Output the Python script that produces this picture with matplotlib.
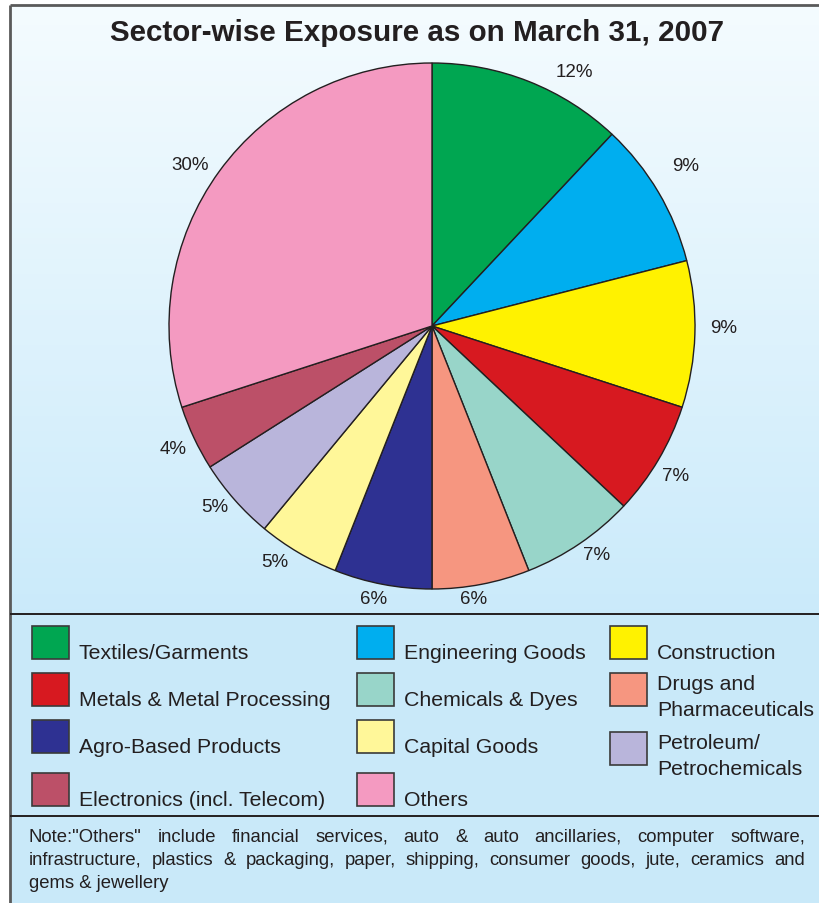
import numpy as np
import matplotlib.pyplot as plt
from matplotlib.patches import Rectangle

plt.rcParams['font.family'] = ['Liberation Sans', 'DejaVu Sans']

title = 'Sector-wise Exposure as on March 31, 2007'
sectors = ['Textiles/Garments', 'Engineering Goods', 'Construction',
           'Metals & Metal Processing', 'Chemicals & Dyes', 'Drugs and\nPharmaceuticals',
           'Agro-Based Products', 'Capital Goods', 'Petroleum/\nPetrochemicals',
           'Electronics (incl. Telecom)', 'Others']
shares = [12, 9, 9, 7, 7, 6, 6, 5, 5, 4, 30]
colors = ['#00a651', '#00aeef', '#fff200', '#d71920', '#98d5c9', '#f69680',
          '#2e3192', '#fff799', '#b9b5db', '#bc5068', '#f49ac1']
note_lines = [
    'Note:"Others" include financial services, auto & auto ancillaries, computer software,',
    'infrastructure, plastics & packaging, paper, shipping, consumer goods, jute, ceramics and',
    'gems & jewellery',
]

INK = '#231f20'
W, H = 820, 904

fig = plt.figure(figsize=(W / 100, H / 100), dpi=100, facecolor='white')
fig.patch.set_edgecolor('none')
fig.patch.set_linewidth(0)

# full-figure axes in pixel units for the panel, legend and note
bg = fig.add_axes([0, 0, 1, 1])
bg.set_axis_off()

# vertical gradient panel, built as a polygon strip stack
top_rgb = np.array([244, 251, 254]) / 255
bot_rgb = np.array([202, 234, 250]) / 255
edges = np.linspace(6, 615, 121)
for y0, y1 in zip(edges[:-1], edges[1:]):
    f = ((y0 + y1) / 2 - 6) / (615 - 6)
    bg.add_patch(Rectangle((10, y0), W - 10, y1 - y0 + 0.6, lw=0,
                           facecolor=top_rgb + (bot_rgb - top_rgb) * f))
bg.add_patch(Rectangle((10, 615), W - 10, H - 615, facecolor='#c9e9f9', lw=0))
bg.set_xlim(0, W)
bg.set_ylim(H, 0)

# frame and separators
bg.plot([10, W], [6, 6], color='#5a5a5a', lw=2, solid_capstyle='butt')
bg.plot([10, 10], [6, H], color='#5a5a5a', lw=2, solid_capstyle='butt')
bg.plot([10, W], [615, 615], color=INK, lw=1.4, solid_capstyle='butt')
bg.plot([10, W], [817, 817], color=INK, lw=1.4, solid_capstyle='butt')

bg.text(417, 33, title, ha='center', va='center', fontsize=21.3,
        fontweight='bold', color=INK)

# pie
R = 263
cx, cy = 432, 327
half = 1.2 * R
ax = fig.add_axes([(cx - half) / W, (H - cy - half) / H, 2 * half / W, 2 * half / H])
wedges, _, pcts = ax.pie(shares, colors=colors, startangle=90, counterclock=False,
                         autopct='%.0f%%', pctdistance=1.09,
                         wedgeprops=dict(edgecolor=INK, linewidth=1.0),
                         textprops=dict(fontsize=13.5, color=INK))
ax.set_xlim(-1.2, 1.2)
ax.set_ylim(-1.2, 1.2)

# percentage labels: radial distance and small angular nudge per slice
label_r = [1.11, 1.14, 1.11, 1.085, 1.07, 1.05, 1.06, 1.075, 1.075, 1.09, 1.105]
label_turn = [-7.7, 1.8, 1.6, -0.9, 1.5, -2.1, -1.4, -3.1, -1.6, 0.2, 2.2]
for w, t, rr, dt in zip(wedges, pcts, label_r, label_turn):
    ang = np.deg2rad((w.theta1 + w.theta2) / 2 + dt)
    t.set_position((rr * np.cos(ang), rr * np.sin(ang)))

# legend, three columns filled row by row
row_top = [627, 674, 721, 774]
col_x = [32, 357, 610]
nudge = {8: 12}
for i, (name, c) in enumerate(zip(sectors, colors)):
    r, k = divmod(i, 3)
    top = row_top[r] + nudge.get(i, 0)
    x = col_x[k]
    bg.add_patch(Rectangle((x, top), 37, 33, facecolor=c, edgecolor='#3a3a3a', lw=1.2))
    lines = name.split('\n')
    if len(lines) == 1:
        bg.text(x + 47, top + 32, lines[0], fontsize=15.3, color=INK, va='baseline')
    else:
        for j, ln in enumerate(lines):
            bg.text(x + 47, top + 16 + 26 * j, ln, fontsize=15.3, color=INK, va='baseline')

# justified note
left, right = 29, 805
baselines = [842, 865, 888]
renderer = fig.canvas.get_renderer()
for n, (line, yb) in enumerate(zip(note_lines, baselines)):
    if n == len(note_lines) - 1:
        bg.text(left, yb, line, fontsize=13.3, color=INK, va='baseline')
        continue
    words = line.split(' ')
    texts = [bg.text(0, yb, w, fontsize=13.3, color=INK, va='baseline') for w in words]
    widths = [t.get_window_extent(renderer).width for t in texts]
    gap = (right - left - sum(widths)) / (len(words) - 1)
    x = left
    for t, w in zip(texts, widths):
        t.set_x(x)
        x += w + gap

fig.savefig('out.png', dpi=100, facecolor='white')
